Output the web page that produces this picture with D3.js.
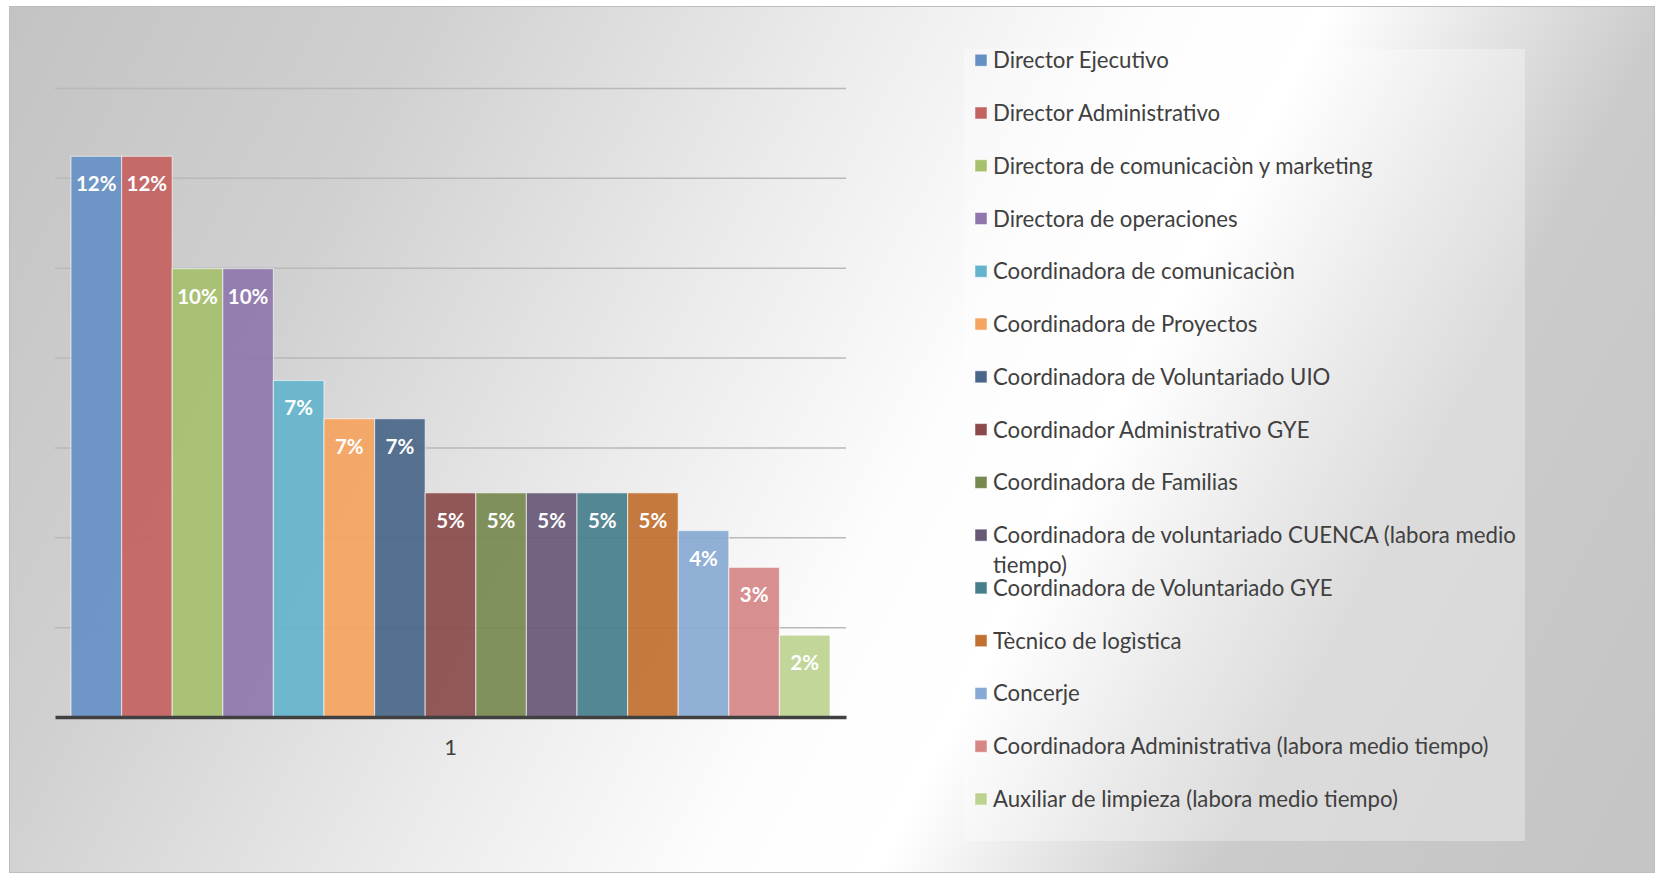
<!DOCTYPE html>
<html>
<head>
<meta charset="utf-8">
<script src="https://cdn.jsdelivr.net/npm/d3@7"></script>
<style>
  body { margin: 0; background: #ffffff; }
  svg { display: block; font-family: Lato, "Open Sans", sans-serif; }
</style>
</head>
<body>
<svg width="1655" height="873"></svg>
<script>
(function () {

  // one category, fifteen roles (series)
  var categories = ['1']

  var names = [
    'Director Ejecutivo',
    'Director Administrativo',
    'Directora de comunicaciòn y marketing',
    'Directora de operaciones',
    'Coordinadora de comunicaciòn',
    'Coordinadora de Proyectos',
    'Coordinadora de Voluntariado UIO',
    'Coordinador Administrativo GYE',
    'Coordinadora de Familias',
    'Coordinadora de voluntariado CUENCA (labora medio tiempo)',
    'Coordinadora de Voluntariado GYE',
    'Tècnico de logìstica',
    'Concerje',
    'Coordinadora Administrativa (labora medio tiempo)',
    'Auxiliar de limpieza (labora medio tiempo)'
  ]

  // share of the total
  var shares = [0.1248, 0.1248, 0.0998, 0.0998, 0.0749, 0.0664, 0.0664,
    0.0499, 0.0499, 0.0499, 0.0499, 0.0499, 0.0415, 0.0333, 0.0182]

  var colors = ['#6590c4', '#c46260', '#a6c06e', '#8f76ad', '#63b4cc', '#f5a461',
    '#4a6689', '#8a4a4a', '#76894e', '#675876', '#467e8c', '#c0702f',
    '#88a9d3', '#d58685', '#bcd38f']

  var yTicks = [0.02, 0.04, 0.06, 0.08, 0.10, 0.12, 0.14]

  var rows = names.map(function (n, i) {
    return { name: n, value: shares[i], color: colors[i] }
  })

  var svg = d3.select('svg')

  // background gradient of the chart area
  var defs = svg.append('defs')
  var grad = defs.append('linearGradient')
    .attr('id', 'bg')
    .attr('gradientUnits', 'userSpaceOnUse')
    .attr('x1', 9).attr('y1', 6)
    .attr('x2', 1655).attr('y2', 873)
  var stops = [[0, '#c3c3c3'], [0.2, '#d0d0d0'], [0.4, '#ebebeb'], [0.55, '#fdfdfd'],
    [0.63, '#ffffff'], [0.71, '#e4e4e4'], [0.79, '#cbcbcb'], [1, '#c4c4c4']]
  grad.selectAll('stop').data(stops).enter().append('stop')
    .attr('offset', function (d) { return d[0] })
    .attr('stop-color', function (d) { return d[1] })

  svg.append('rect')
    .attr('x', 9.5).attr('y', 6.5)
    .attr('width', 1645).attr('height', 866)
    .attr('fill', 'url(#bg)')
    .attr('stroke', '#bdbdbd')

  // scales
  var plotLeft = 55, plotRight = 846
  var yScale = d3.scaleLinear().domain([0, 0.14]).range([717, 88])
  var catScale = d3.scaleBand().domain(categories).range([plotLeft, plotRight])
  var xScale = d3.scaleBand().domain(names)
    .range([catScale('1'), catScale('1') + catScale.bandwidth()])
    .paddingInner(0).paddingOuter(0.316)

  // gridlines
  svg.append('g')
    .attr('transform', 'translate(' + plotLeft + ',0)')
    .call(d3.axisLeft(yScale).tickValues(yTicks).tickSize(-(plotRight - plotLeft)).tickFormat(''))
    .call(function (g) {
      g.select('.domain').remove()
      g.selectAll('.tick line').attr('stroke', '#b9b9b9').attr('stroke-width', 1.5)
    })

  // bars
  svg.selectAll('rect.bar')
    .data(rows)
    .enter().append('rect')
    .attr('class', 'bar')
    .attr('x', function (d) { return xScale(d.name) })
    .attr('y', function (d) { return yScale(d.value) })
    .attr('width', xScale.bandwidth())
    .attr('height', function (d) { return yScale(0) - yScale(d.value) })
    .attr('fill', function (d) { return d.color })
    .attr('fill-opacity', 0.92)
    .attr('stroke', '#ffffff')
    .attr('stroke-opacity', 0.55)
    .attr('stroke-width', 1.2)

  // value labels inside the bars
  var pct = d3.format('.0%')
  svg.selectAll('text.val')
    .data(rows)
    .enter().append('text')
    .attr('class', 'val')
    .attr('x', function (d) { return xScale(d.name) + xScale.bandwidth() / 2 })
    .attr('y', function (d) { return yScale(d.value) + 35 })
    .attr('text-anchor', 'middle')
    .attr('fill', '#ffffff')
    .attr('font-weight', 'bold')
    .attr('font-size', 20.5)
    .text(function (d) { return pct(d.value) })

  // x axis (thick baseline + category label)
  svg.append('g')
    .attr('transform', 'translate(0,' + yScale(0) + ')')
    .call(d3.axisBottom(catScale).tickSize(0).tickPadding(22))
    .call(function (g) {
      g.select('.domain').attr('stroke', '#404040').attr('stroke-width', 3.5)
      g.selectAll('text').attr('font-size', 22).attr('fill', '#404040')
        .attr('font-family', 'Lato, sans-serif')
    })

  // legend
  var legend = svg.append('g')
  legend.append('rect')
    .attr('x', 964).attr('y', 49)
    .attr('width', 561).attr('height', 792)
    .attr('fill', '#ffffff').attr('fill-opacity', 0.32)

  var rowScale = d3.scaleLinear().domain([0, names.length - 1]).range([60.2, 799])

  var items = legend.selectAll('g.item')
    .data(rows)
    .enter().append('g')
    .attr('class', 'item')
    .attr('transform', function (d, i) { return 'translate(975,' + rowScale(i) + ')' })

  items.append('rect')
    .attr('x', 0).attr('y', -6)
    .attr('width', 12).attr('height', 12)
    .attr('fill', function (d) { return d.color })
    .attr('stroke', '#ffffff').attr('stroke-opacity', 0.5)

  items.append('text')
    .attr('x', 18)
    .attr('y', 8)
    .attr('font-size', 22.2)
    .attr('fill', '#404040')
    .each(function (d) {
      // simple word wrap
      var text = d3.select(this)
      var words = d.name.split(' ')
      var line = []
      var tspan = text.append('tspan').attr('x', 18).attr('dy', 0)
      words.forEach(function (w) {
        line.push(w)
        tspan.text(line.join(' '))
        if (tspan.node().getComputedTextLength() > 530 && line.length > 1) {
          line.pop()
          tspan.text(line.join(' '))
          line = [w]
          tspan = text.append('tspan').attr('x', 18).attr('dy', 29.5).text(w)
        }
      })
    })

})()
</script>
</body>
</html>
